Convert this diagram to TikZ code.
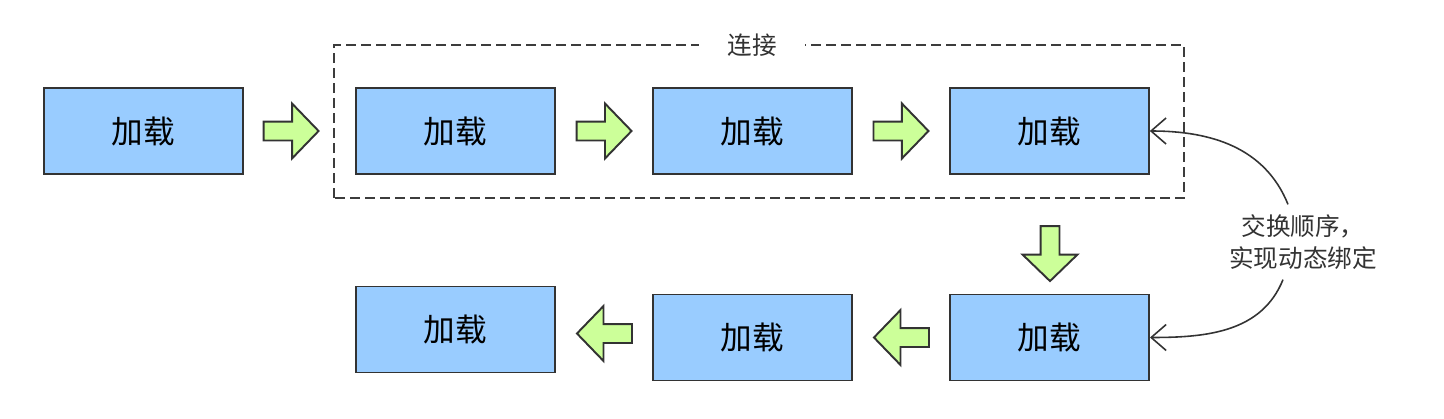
\documentclass[tikz,border=0pt]{standalone}
\usepackage{fontspec}
\setmainfont{Noto Sans CJK SC}
\usetikzlibrary{arrows.meta,positioning,shapes.arrows,calc}
\definecolor{ldBorder}{RGB}{51,51,51}
\definecolor{ldBox}{RGB}{153,204,255}
\definecolor{ldStep}{RGB}{204,255,153}
\definecolor{ldFrame}{RGB}{60,60,60}

\begin{document}
\begin{tikzpicture}[node distance=1.92cm,
  load/.style={draw=ldBorder,line width=1.1pt,fill=ldBox,minimum width=3.98cm,minimum height=1.72cm,font=\fontsize{18}{20}\selectfont},
  stepr/.style={single arrow,draw=ldBorder,line width=1.1pt,fill=ldStep,inner sep=0.17cm,single arrow head extend=0.36cm,single arrow tip angle=92,minimum height=1.1cm},
  swap/.style={-{Straight Barb[length=0.3cm,width=0.52cm]},line width=0.9pt,ldBorder}]
    \useasboundingbox (0,0) rectangle (28.88,8.36);
    % Top row
    \node[load] at (2.87,5.74) (ld1) {加载};
    \node[load] at (9.11,5.74) (ld2) {加载};
    \node[load,right=of ld2] (ld3) {加载};
    \node[load,right=of ld3] (ld4) {加载};
    % Bottom row
    \node[load] at (20.99,1.61) (ld5) {加载};
    \node[load,left=of ld5] (ld6) {加载};
    \node[load] at (9.11,1.77) (ld7) {加载};
    % Link frame
    \draw[ldFrame,line width=1.2pt,dash pattern=on 0.2cm off 0.1cm] (6.68,4.40) rectangle (23.68,7.46);
    \node[fill=white,inner xsep=0.56cm,text=ldBorder,font=\fontsize{14}{16}\selectfont] (link) at (15.04,7.46) {连接};
    % Block arrows
    \node[stepr,xshift=-0.09cm] (s1) at (5.82,5.74) {};
    \node[stepr,xshift=-0.09cm] (s2) at ($(ld2.east)!0.5!(ld3.west)$) {};
    \node[stepr,xshift=-0.09cm] (s3) at ($(ld3.east)!0.5!(ld4.west)$) {};
    \node[stepr,shape border rotate=270,yshift=0.09cm] (s4) at (21.0,3.29) {};
    \node[stepr,shape border rotate=180,xshift=0.1cm] (s5) at ($(ld5.west)!0.5!(ld6.east)$) {};
    \node[stepr,shape border rotate=180,xshift=0.1cm] (s6) at ($(ld6.west)!0.5!(ld7.east)$) {};
    % Swap note
    \node[align=center,text=ldBorder,font=\fontsize{14}{18}\selectfont,inner ysep=0.2cm] (note) at (26.06,3.52) {交换顺序，\\实现动态绑定};
    \draw[swap] ([xshift=-0.3cm]note.north) to[out=112,in=0] (ld4.east);
    \draw[swap] ([xshift=-0.4cm]note.south) to[out=-112,in=0] (ld5.east);
\end{tikzpicture}
\end{document}
